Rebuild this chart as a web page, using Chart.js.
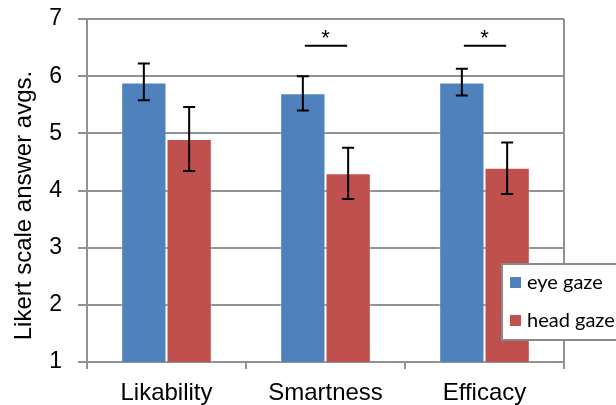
<!DOCTYPE html>
<html>
<head>
<meta charset="utf-8">
<script src="https://cdn.jsdelivr.net/npm/chart.js@4"></script>
<style>
  body { margin: 0; background: #fff; }
  canvas { display: block; }
</style>
</head>
<body>
<canvas id="myChart" width="616" height="405"></canvas>
<script>
const categories = ["Likability", "Smartness", "Efficacy"];
const seriesNames = ["eye gaze", "head gaze"];
const eyeGaze = [5.89, 5.7, 5.89];
const eyeLow = [5.58, 5.4, 5.66];
const eyeHigh = [6.22, 6.0, 6.13];
const headGaze = [4.9, 4.3, 4.4];
const headLow = [4.34, 3.85, 3.94];
const headHigh = [5.46, 4.75, 4.84];
const significant = [false, true, true];
const sigLevel = 6.53;
const yTicks = [1, 2, 3, 4, 5, 6, 7];
const yTitle = "Likert scale answer avgs.";

const errLow = [eyeLow, headLow];
const errHigh = [eyeHigh, headHigh];
const axisGray = "#929292";

const ctx = document.getElementById("myChart");

// plot area border on the right
const frame = {
  id: "frame",
  beforeDatasetsDraw(chart) {
    const { ctx, chartArea: a } = chart;
    ctx.save();
    ctx.strokeStyle = axisGray;
    ctx.lineWidth = 2;
    ctx.beginPath();
    ctx.moveTo(a.right, a.top);
    ctx.lineTo(a.right, a.bottom);
    ctx.stroke();
    ctx.restore();
  },
};

// axis title sits a bit below the plot's middle, like the original
const sideTitle = {
  id: "sideTitle",
  afterDraw(chart) {
    const { ctx, chartArea: a } = chart;
    ctx.save();
    ctx.translate(24, (a.top + a.bottom) / 2 + 15);
    ctx.rotate(-Math.PI / 2);
    ctx.font = "24px 'Liberation Sans'";
    ctx.fillStyle = "#000";
    ctx.textAlign = "center";
    ctx.textBaseline = "middle";
    ctx.fillText(yTitle, 0, 0);
    ctx.restore();
  },
};

const errorBars = {
  id: "errorBars",
  afterDatasetsDraw(chart) {
    const { ctx } = chart;
    const y = chart.scales.y;
    ctx.save();
    ctx.strokeStyle = "#000";
    ctx.lineWidth = 2;
    chart.data.datasets.forEach((ds, d) => {
      chart.getDatasetMeta(d).data.forEach((bar, i) => {
        const yl = y.getPixelForValue(errLow[d][i]);
        const yh = y.getPixelForValue(errHigh[d][i]);
        ctx.beginPath();
        ctx.moveTo(bar.x, yl);
        ctx.lineTo(bar.x, yh);
        ctx.moveTo(bar.x - 6, yl);
        ctx.lineTo(bar.x + 6, yl);
        ctx.moveTo(bar.x - 6, yh);
        ctx.lineTo(bar.x + 6, yh);
        ctx.stroke();
      });
    });
    ctx.restore();
  },
};

const sigMarks = {
  id: "sigMarks",
  afterDatasetsDraw(chart) {
    const { ctx } = chart;
    const y = chart.scales.y.getPixelForValue(sigLevel);
    const a = chart.getDatasetMeta(0).data;
    const b = chart.getDatasetMeta(1).data;
    ctx.save();
    ctx.strokeStyle = "#000";
    ctx.fillStyle = "#000";
    ctx.lineWidth = 2;
    ctx.font = "22px 'Liberation Sans'";
    ctx.textAlign = "center";
    ctx.textBaseline = "middle";
    significant.forEach((s, i) => {
      if (!s) return;
      ctx.beginPath();
      ctx.moveTo(a[i].x + 2, y);
      ctx.lineTo(b[i].x - 1, y);
      ctx.stroke();
      ctx.fillText("*", (a[i].x + b[i].x) / 2, y - 7);
    });
    ctx.restore();
  },
};

const boxLegend = {
  id: "boxLegend",
  afterDraw(chart) {
    const { ctx } = chart;
    ctx.save();
    ctx.fillStyle = "#fff";
    ctx.fillRect(502, 264, 130, 76);
    ctx.strokeStyle = "#8a8a8a";
    ctx.lineWidth = 2;
    ctx.strokeRect(502, 264, 130, 76);
    ctx.font = "20px Lato";
    ctx.textBaseline = "middle";
    chart.data.datasets.forEach((ds, d) => {
      const cy = 283 + d * 38;
      ctx.fillStyle = ds.backgroundColor;
      ctx.fillRect(510, cy - 6, 11, 11);
      ctx.fillStyle = "#000";
      ctx.fillText(ds.label, 527, cy);
    });
    ctx.restore();
  },
};

new Chart(ctx, {
  type: "bar",
  data: {
    labels: categories,
    datasets: [
      {
        label: seriesNames[0],
        data: eyeGaze,
        backgroundColor: "#4f81bd",
        borderColor: "rgba(255,255,255,0.35)",
        borderWidth: 1,
      },
      {
        label: seriesNames[1],
        data: headGaze,
        backgroundColor: "#c0504d",
        borderColor: "rgba(255,255,255,0.35)",
        borderWidth: 1,
      },
    ],
  },
  options: {
    responsive: false,
    animation: false,
    categoryPercentage: 0.57,
    barPercentage: 1,
    layout: { padding: { top: 19, right: 52, left: 0, bottom: 0 } },
    plugins: {
      legend: { display: false },
      tooltip: { enabled: false },
    },
    scales: {
      x: {
        afterFit: (s) => { s.height = 43; s.paddingLeft = 0; s.paddingRight = 0; },
        grid: {
          offset: true,
          drawOnChartArea: false,
          color: axisGray,
          lineWidth: 2,
          tickLength: 7,
        },
        border: { color: axisGray, width: 2 },
        ticks: {
          color: "#000",
          padding: 10,
          font: { family: "'Liberation Sans'", size: 24 },
        },
      },
      y: {
        min: 1,
        max: 7,
        afterFit: (s) => { s.width = 87; s.paddingTop = 0; s.paddingBottom = 0; },
        afterBuildTicks: (s) => { s.ticks = yTicks.map((v) => ({ value: v })); },
        grid: { color: axisGray, lineWidth: 2, tickLength: 9 },
        border: { color: axisGray, width: 2 },
        ticks: {
          color: "#000",
          padding: 16,
          font: { family: "'Liberation Sans'", size: 23 },
        },
      },
    },
  },
  plugins: [frame, sideTitle, errorBars, sigMarks, boxLegend],
});
</script>
</body>
</html>
